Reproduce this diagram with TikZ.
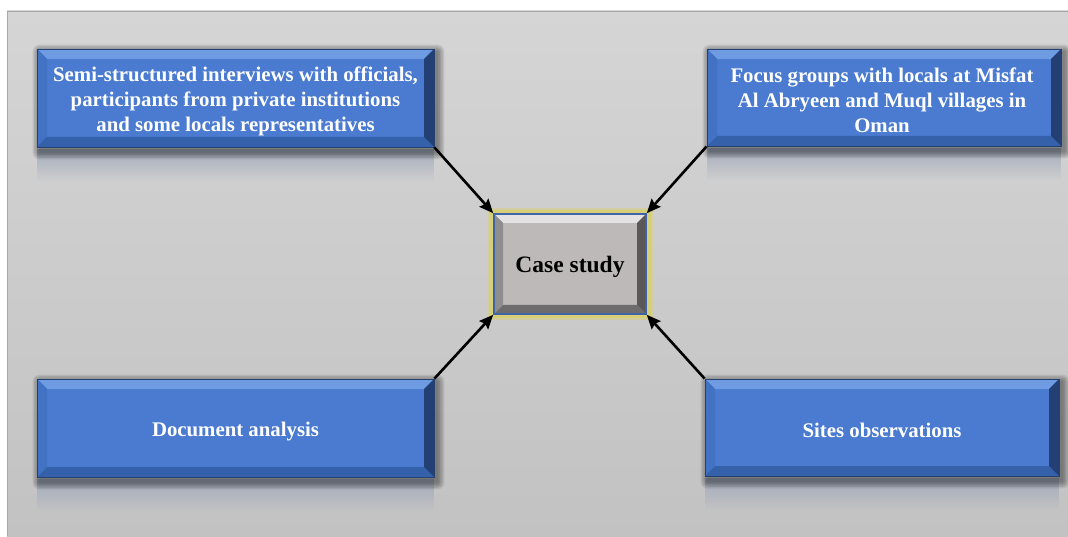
\documentclass[tikz,border=0pt]{standalone}
\usepackage{fontspec}
\setmainfont{Liberation Serif}
\usetikzlibrary{arrows.meta,calc,fadings,backgrounds}

\definecolor{panelTop}{HTML}{D5D5D5}
\definecolor{panelBot}{HTML}{C2C2C2}
\definecolor{panelEdge}{HTML}{A8A8A8}
\definecolor{boxFace}{HTML}{4A7BD0}
\definecolor{boxTop}{HTML}{6F9BE3}
\definecolor{boxLeft}{HTML}{4272C4}
\definecolor{boxBottom}{HTML}{3560AA}
\definecolor{boxRight}{HTML}{243F73}
\definecolor{boxLine}{HTML}{23406F}
\definecolor{mirror}{HTML}{9AA4B8}
\definecolor{caseFace}{HTML}{BDB9B9}
\definecolor{caseTop}{HTML}{E4E2E2}
\definecolor{caseLeft}{HTML}{8F8D8D}
\definecolor{caseBottom}{HTML}{6E6C6C}
\definecolor{caseRight}{HTML}{5A5858}
\definecolor{caseLine}{HTML}{3E63A9}
\definecolor{glow}{HTML}{D6CF78}

\pgfdeclarelayer{panel}
\pgfsetlayers{panel,background,main}

% bevelled faces of a box, painted inside the node outline
\newcommand\bevelfaces[5]{%
  \coordinate (bvNW) at (path picture bounding box.north west);
  \coordinate (bvNE) at (path picture bounding box.north east);
  \coordinate (bvSW) at (path picture bounding box.south west);
  \coordinate (bvSE) at (path picture bounding box.south east);
  \fill[#2] (bvNW) -- (bvNE) -- ($(bvNE)+(-#1,-#1)$) -- ($(bvNW)+(#1,-#1)$) -- cycle;
  \fill[#3] (bvNW) -- ($(bvNW)+(#1,-#1)$) -- ($(bvSW)+(#1,#1)$) -- (bvSW) -- cycle;
  \fill[#4] (bvSW) -- ($(bvSW)+(#1,#1)$) -- ($(bvSE)+(-#1,#1)$) -- (bvSE) -- cycle;
  \fill[#5] (bvSE) -- ($(bvSE)+(-#1,#1)$) -- ($(bvNE)+(-#1,-#1)$) -- (bvNE) -- cycle;
}

\tikzset{
  bluebox/.style={rectangle, inner sep=0pt, fill=boxFace, draw=boxLine,
    line width=0.8pt,
    path picture={\bevelfaces{10}{boxTop}{boxLeft}{boxBottom}{boxRight}}},
  boxtext/.style={text=white, align=center, inner sep=0pt,
    font=\bfseries\fontsize{20.8}{25}\selectfont},
  casebox/.style={rectangle, inner sep=0pt, fill=caseFace, draw=caseLine,
    line width=1.6pt, minimum width=152pt, minimum height=100pt,
    path picture={\bevelfaces{9}{caseTop}{caseLeft}{caseBottom}{caseRight}}},
  casetext/.style={inner sep=0pt, font=\bfseries\fontsize{23.5}{27}\selectfont},
  link/.style={line width=2.6pt, -{Stealth[length=14pt,width=12pt,inset=2pt]}},
}

\begin{document}
\begin{tikzpicture}[x=1pt,y=1pt]
\useasboundingbox (0,0) rectangle (1068,536);

\begin{pgfonlayer}{panel}
  \fill[white] (0,0) rectangle (1068,536);
  \shade[top color=panelTop, bottom color=panelBot] (7,0) rectangle (1068,525);
  \draw[panelEdge, line width=0.8pt] (7,0) -- (7,525) -- (1068,525);
\end{pgfonlayer}

% source boxes
\node[bluebox, minimum width=397pt, minimum height=98pt] (tl) at (235.5,438) {};
\node[bluebox, minimum width=354pt, minimum height=97pt] (tr) at (884,438.5) {};
\node[bluebox, minimum width=397pt, minimum height=98pt] (bl) at (235.5,108) {};
\node[bluebox, minimum width=354pt, minimum height=97pt] (br) at (882,108.5) {};

\node[boxtext] (tl-text) at ($(tl)+(0,-3)$)
  {Semi-structured interviews with officials,\\participants from private institutions\\and some locals representatives};
\node[boxtext] (tr-text) at ($(tr)+(-2,-3)$)
  {Focus groups with locals at Misfat\\Al Abryeen and Muql villages in\\Oman};
\node[boxtext] (bl-text) at ($(bl)+(0,-4)$) {Document analysis};
\node[boxtext] (br-text) at ($(br)+(0,-3)$) {Sites observations};

% central box
\node[casebox] (cs) at (570,272) {};
\node[casetext] (cs-text) at ($(cs)+(0,-3)$) {Case study};

% soft shadows, reflections, and the glow behind the central box
\begin{scope}[on background layer]
  \foreach \b in {tl,tr,bl,br}{
    \fill[mirror, path fading=south, opacity=0.8]
      ($(\b.south west)+(0,-2)$) rectangle ($(\b.south east)+(0,-34)$);
    \foreach \r in {1,2.5,4,5.5,7}{
      \fill[black, opacity=0.09, rounded corners=\r pt]
        ($(\b.north west)+(3-\r,-3+\r)$) rectangle ($(\b.south east)+(3+\r,-5-\r)$);
    }
  }
  \fill[glow, opacity=0.5] ($(cs.north west)+(-5,5)$) rectangle ($(cs.south east)+(6,-5)$);
  \fill[glow] ($(cs.north west)+(-3,3)$) rectangle ($(cs.south east)+(4,-3)$);
\end{scope}

% connectors
\draw[link] (tl.south east) -- (cs.north west);
\draw[link] (tr.south west) -- (cs.north east);
\draw[link] (bl.north east) -- (cs.south west);
\draw[link] (br.north west) -- (cs.south east);
\end{tikzpicture}
\end{document}
